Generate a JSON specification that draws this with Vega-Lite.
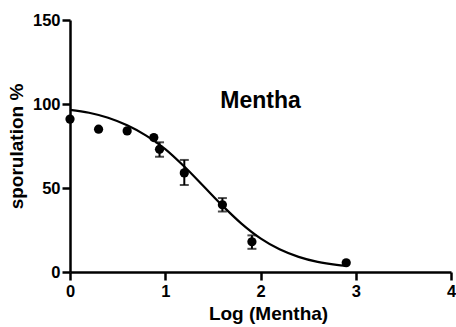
{
  "$schema": "https://vega.github.io/schema/vega-lite/v6.json",
  "width": 381,
  "height": 252,
  "autosize": "none",
  "padding": {"left": 70, "top": 20, "right": 5, "bottom": 55},
  "background": "white",
  "config": {
    "view": {"stroke": null},
    "axis": {
      "grid": false,
      "labelFlush": false,
      "domainColor": "black",
      "domainWidth": 2.5,
      "tickColor": "black",
      "tickWidth": 2.5,
      "tickSize": 8,
      "labelFont": "Liberation Sans",
      "labelFontWeight": "bold",
      "labelFontSize": 16.5,
      "labelColor": "black",
      "titleFont": "Liberation Sans",
      "titleFontWeight": "bold",
      "titleFontSize": 19,
      "titleColor": "black"
    }
  },
  "datasets": {
    "pts": [
      {"logc": 0.0, "spor": 91},
      {"logc": 0.3, "spor": 85},
      {"logc": 0.6, "spor": 84},
      {"logc": 0.88, "spor": 80},
      {"logc": 0.94, "spor": 73, "lo": 68.6, "hi": 77.2},
      {"logc": 1.2, "spor": 59, "lo": 51.8, "hi": 66.7},
      {"logc": 1.6, "spor": 40, "lo": 36, "hi": 44},
      {"logc": 1.91, "spor": 18, "lo": 13.8, "hi": 21.8},
      {"logc": 2.9, "spor": 5.5}
    ],
    "fit": [
      {"logc": 0.0, "spor": 96.5},
      {"logc": 0.2, "spor": 94.8},
      {"logc": 0.4, "spor": 91.8},
      {"logc": 0.6, "spor": 87.3},
      {"logc": 0.8, "spor": 81.2},
      {"logc": 1.0, "spor": 73.2},
      {"logc": 1.2, "spor": 62.8},
      {"logc": 1.4, "spor": 51.2},
      {"logc": 1.6, "spor": 39.5},
      {"logc": 1.8, "spor": 28.8},
      {"logc": 2.0, "spor": 20.0},
      {"logc": 2.2, "spor": 13.5},
      {"logc": 2.4, "spor": 9.0},
      {"logc": 2.6, "spor": 6.0},
      {"logc": 2.8, "spor": 4.2},
      {"logc": 2.9, "spor": 3.6}
    ],
    "label": [{"logc": 2.0, "spor": 102, "name": "Mentha"}]
  },
  "layer": [
    {
      "data": {"name": "fit"},
      "mark": {"type": "line", "color": "black", "strokeWidth": 2.2, "interpolate": "monotone"},
      "encoding": {
        "x": {"field": "logc", "type": "quantitative", "scale": {"domain": [0, 4], "nice": false}, "axis": {"values": [0, 1, 2, 3, 4], "format": "d", "title": "Log (Mentha)", "titlePadding": 5, "labelPadding": 3, "titleX": 198}},
        "y": {"field": "spor", "type": "quantitative", "scale": {"domain": [0, 150], "nice": false}, "axis": {"values": [0, 50, 100, 150], "format": "d", "title": "sporulation %", "titlePadding": 6, "labelPadding": 2}}
      }
    },
    {
      "data": {"name": "pts"},
      "transform": [{"filter": "isValid(datum.lo)"}],
      "mark": {"type": "rule", "color": "black", "strokeWidth": 2},
      "encoding": {
        "x": {"field": "logc", "type": "quantitative"},
        "y": {"field": "lo", "type": "quantitative"},
        "y2": {"field": "hi"}
      }
    },
    {
      "data": {"name": "pts"},
      "transform": [{"filter": "isValid(datum.lo)"}],
      "mark": {"type": "tick", "color": "black", "orient": "horizontal", "size": 9, "thickness": 2},
      "encoding": {
        "x": {"field": "logc", "type": "quantitative"},
        "y": {"field": "lo", "type": "quantitative"}
      }
    },
    {
      "data": {"name": "pts"},
      "transform": [{"filter": "isValid(datum.hi)"}],
      "mark": {"type": "tick", "color": "black", "orient": "horizontal", "size": 9, "thickness": 2},
      "encoding": {
        "x": {"field": "logc", "type": "quantitative"},
        "y": {"field": "hi", "type": "quantitative"}
      }
    },
    {
      "data": {"name": "pts"},
      "mark": {"type": "circle", "color": "black", "opacity": 1, "size": 85},
      "encoding": {
        "x": {"field": "logc", "type": "quantitative"},
        "y": {"field": "spor", "type": "quantitative"}
      }
    },
    {
      "data": {"name": "label"},
      "mark": {"type": "text", "font": "Liberation Sans", "fontWeight": "bold", "fontSize": 23, "color": "black", "align": "center", "baseline": "middle"},
      "encoding": {
        "x": {"field": "logc", "type": "quantitative"},
        "y": {"field": "spor", "type": "quantitative"},
        "text": {"field": "name"}
      }
    }
  ]
}
